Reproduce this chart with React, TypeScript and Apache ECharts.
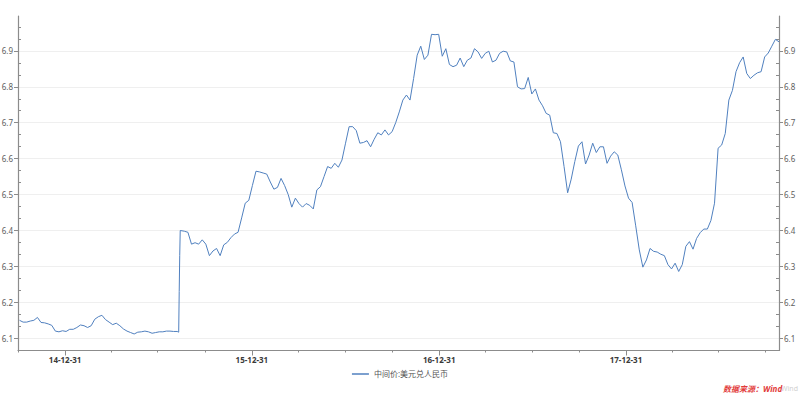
import React, { useEffect, useRef } from "react";
import * as echarts from "echarts";

const seriesName = "中间价:美元兑人民币";
const axisStart = "2014-09-30";
const weeklyStart = "2014-10-03";
// weekly readings (every 7 days from weeklyStart)
const weeklyValues = [
  6.150, 6.145, 6.145, 6.148, 6.150, 6.158, 6.144, 6.143, 6.140, 6.136,
  6.120, 6.118, 6.121, 6.119, 6.125, 6.125, 6.130, 6.137, 6.135, 6.130,
  6.135, 6.153, 6.160, 6.164, 6.152, 6.145, 6.138, 6.142, 6.135, 6.126,
  6.120, 6.116, 6.112, 6.117, 6.118, 6.120, 6.118, 6.114, 6.116, 6.118,
  6.118, 6.120, 6.120, 6.119, 6.119, 6.400, 6.398, 6.395, 6.362, 6.366,
  6.362, 6.374, 6.362, 6.330, 6.343, 6.350, 6.330, 6.360, 6.367, 6.380,
  6.390, 6.395, 6.435, 6.476, 6.484, 6.525, 6.565, 6.563, 6.560, 6.557,
  6.535, 6.515, 6.520, 6.545, 6.525, 6.500, 6.465, 6.490, 6.475, 6.465,
  6.475, 6.470, 6.460, 6.513, 6.522, 6.550, 6.578, 6.573, 6.587, 6.576,
  6.596, 6.643, 6.689, 6.689, 6.678, 6.643, 6.645, 6.650, 6.633, 6.654,
  6.672, 6.666, 6.680, 6.666, 6.675, 6.700, 6.730, 6.763, 6.777, 6.763,
  6.823, 6.888, 6.913, 6.876, 6.888, 6.946, 6.945, 6.946, 6.885, 6.906,
  6.862, 6.856, 6.860, 6.880, 6.856, 6.874, 6.880, 6.906, 6.897, 6.879,
  6.893, 6.899, 6.869, 6.874, 6.893, 6.899, 6.897, 6.872, 6.869, 6.800,
  6.794, 6.795, 6.826, 6.780, 6.794, 6.763, 6.747, 6.726, 6.721, 6.672,
  6.670, 6.647, 6.578, 6.505, 6.543, 6.592, 6.635, 6.647, 6.585, 6.610,
  6.643, 6.617, 6.633, 6.633, 6.587, 6.607, 6.619, 6.610, 6.569, 6.524,
  6.490, 6.478, 6.413, 6.346, 6.298, 6.318, 6.350, 6.342, 6.340, 6.334,
  6.330, 6.305, 6.293, 6.309, 6.286, 6.305, 6.356, 6.369, 6.348, 6.378,
  6.394, 6.404, 6.404, 6.428, 6.476, 6.629, 6.638, 6.670, 6.763, 6.790,
  6.842, 6.867, 6.883, 6.837, 6.823, 6.832, 6.839, 6.842, 6.883, 6.894,
  6.913, 6.932, 6.925,
];
// daily readings around the August 2015 jump
const jumpDates = ["2015-08-10", "2015-08-11", "2015-08-12", "2015-08-13"];
const jumpValues = [6.117, 6.23, 6.33, 6.4];

const quarterEnds = [
  "2014-09-30", "2014-12-31", "2015-03-31", "2015-06-30", "2015-09-30",
  "2015-12-31", "2016-03-31", "2016-06-30", "2016-09-30", "2016-12-31",
  "2017-03-31", "2017-06-30", "2017-09-30", "2017-12-31", "2018-03-31",
  "2018-06-30", "2018-09-30",
];
const yearEnds = ["2014-12-31", "2015-12-31", "2016-12-31", "2017-12-31"];
const yTickValues = [6.1, 6.2, 6.3, 6.4, 6.5, 6.6, 6.7, 6.8, 6.9];
const yMin = 6.066;
const yMax = 6.997;

const DAY = 86400000;
function utc(s: string) {
  const [y, m, d] = s.split("-").map(Number);
  return Date.UTC(y, m - 1, d);
}
const base = utc(axisStart);
const dayOf = (s: string) => Math.round((utc(s) - base) / DAY);
const pad = (n: number) => (n < 10 ? "0" + n : "" + n);

export default function App() {
  const ref = useRef<HTMLDivElement>(null);
  useEffect(() => {
    if (!ref.current) return;
    const chart = echarts.init(ref.current, undefined, { renderer: "svg" });
    const w0 = dayOf(weeklyStart);
    const pts: [number, number][] = weeklyValues.map((v, i) => [w0 + 7 * i, v]);
    jumpDates.forEach((d, i) => pts.push([dayOf(d), jumpValues[i]]));
    pts.sort((a, b) => a[0] - b[0]);
    const xMax = pts[pts.length - 1][0];
    const qTicks = quarterEnds.map(dayOf);
    const yTicks = yearEnds.map(dayOf);
    const axisColor = "#8c8c8c";
    const font = "'Noto Sans', 'Noto Sans CJK SC', sans-serif";
    const fmtX = (v: number) => {
      const d = new Date(base + Math.round(v) * DAY);
      return (
        String(d.getUTCFullYear()).slice(2) +
        "-" +
        pad(d.getUTCMonth() + 1) +
        "-" +
        pad(d.getUTCDate())
      );
    };
    const mainY = (pos: "left" | "right") => ({
      type: "value",
      position: pos,
      min: yMin,
      max: yMax,
      splitNumber: 9,
      axisLine: { show: true, onZero: false, lineStyle: { color: axisColor, width: 1.2 } },
      axisTick: { show: true, length: 4, customValues: yTickValues, lineStyle: { color: axisColor } },
      axisLabel: {
        customValues: yTickValues,
        formatter: (v: number) => v.toFixed(1),
        fontSize: 8,
        color: "#5e5e5e",
        margin: 5,
      },
      splitLine: { show: pos === "left", lineStyle: { color: "#efefef", width: 1 } },
    });
    const minorY = (pos: "left" | "right") => ({
      type: "value",
      position: pos,
      min: yMin,
      max: yMax,
      splitNumber: 9,
      axisLine: { show: false, onZero: false },
      axisTick: { show: false, inside: true },
      axisLabel: { show: false },
      splitLine: { show: false },
      minorTick: { show: true, splitNumber: 3, length: 3, lineStyle: { color: axisColor } },
    });
    chart.setOption({
      animation: false,
      textStyle: { fontFamily: font },
      grid: { left: 18, right: 21, top: 16, bottom: 44.5, containLabel: false, outerBoundsMode: "none" },
      legend: {
        data: [seriesName],
        left: "center",
        top: 370,
        padding: 0,
        icon: "rect",
        itemWidth: 17,
        itemHeight: 1.5,
        textStyle: { fontSize: 8, color: "#555", fontFamily: font },
      },
      xAxis: [
        {
          type: "value",
          position: "bottom",
          min: 0,
          max: xMax,
          axisLine: { show: true, onZero: false, lineStyle: { color: axisColor, width: 1.2 } },
          axisTick: { show: true, length: 2, customValues: qTicks, lineStyle: { color: axisColor } },
          axisLabel: {
            customValues: yTicks,
            formatter: fmtX,
            fontSize: 8,
            fontWeight: "bold",
            color: "#3a3a3a",
            margin: 5,
          },
          splitLine: { show: false },
        },
        {
          type: "value",
          position: "bottom",
          min: 0,
          max: xMax,
          axisLine: { show: false, onZero: false },
          axisTick: { show: true, length: 5, customValues: yTicks, lineStyle: { color: axisColor } },
          axisLabel: { show: false },
          splitLine: { show: false },
        },
      ],
      yAxis: [mainY("left"), mainY("right"), minorY("left"), minorY("right")],
      series: [
        {
          type: "line",
          name: seriesName,
          xAxisIndex: 0,
          yAxisIndex: 0,
          data: pts,
          showSymbol: false,
          symbol: "none",
          lineStyle: { color: "#5080bf", width: 1 },
          itemStyle: { color: "#5080bf" },
        },
      ],
      graphic: [
        {
          type: "text",
          left: 781,
          top: 385,
          style: { text: "Wind", fill: "#d0d0d0", fontSize: 7, fontFamily: font },
        },
        {
          type: "text",
          left: 723,
          top: 384,
          style: {
            text: "数据来源：Wind",
            fill: "#e23a3a",
            fontSize: 8,
            fontStyle: "italic",
            fontWeight: "bold",
            fontFamily: font,
          },
        },
      ],
    });
    return () => chart.dispose();
  }, []);
  return (
    <div
      ref={ref}
      style={{ position: "fixed", left: 0, top: 0, width: 800, height: 395, background: "#fff" }}
    />
  );
}
